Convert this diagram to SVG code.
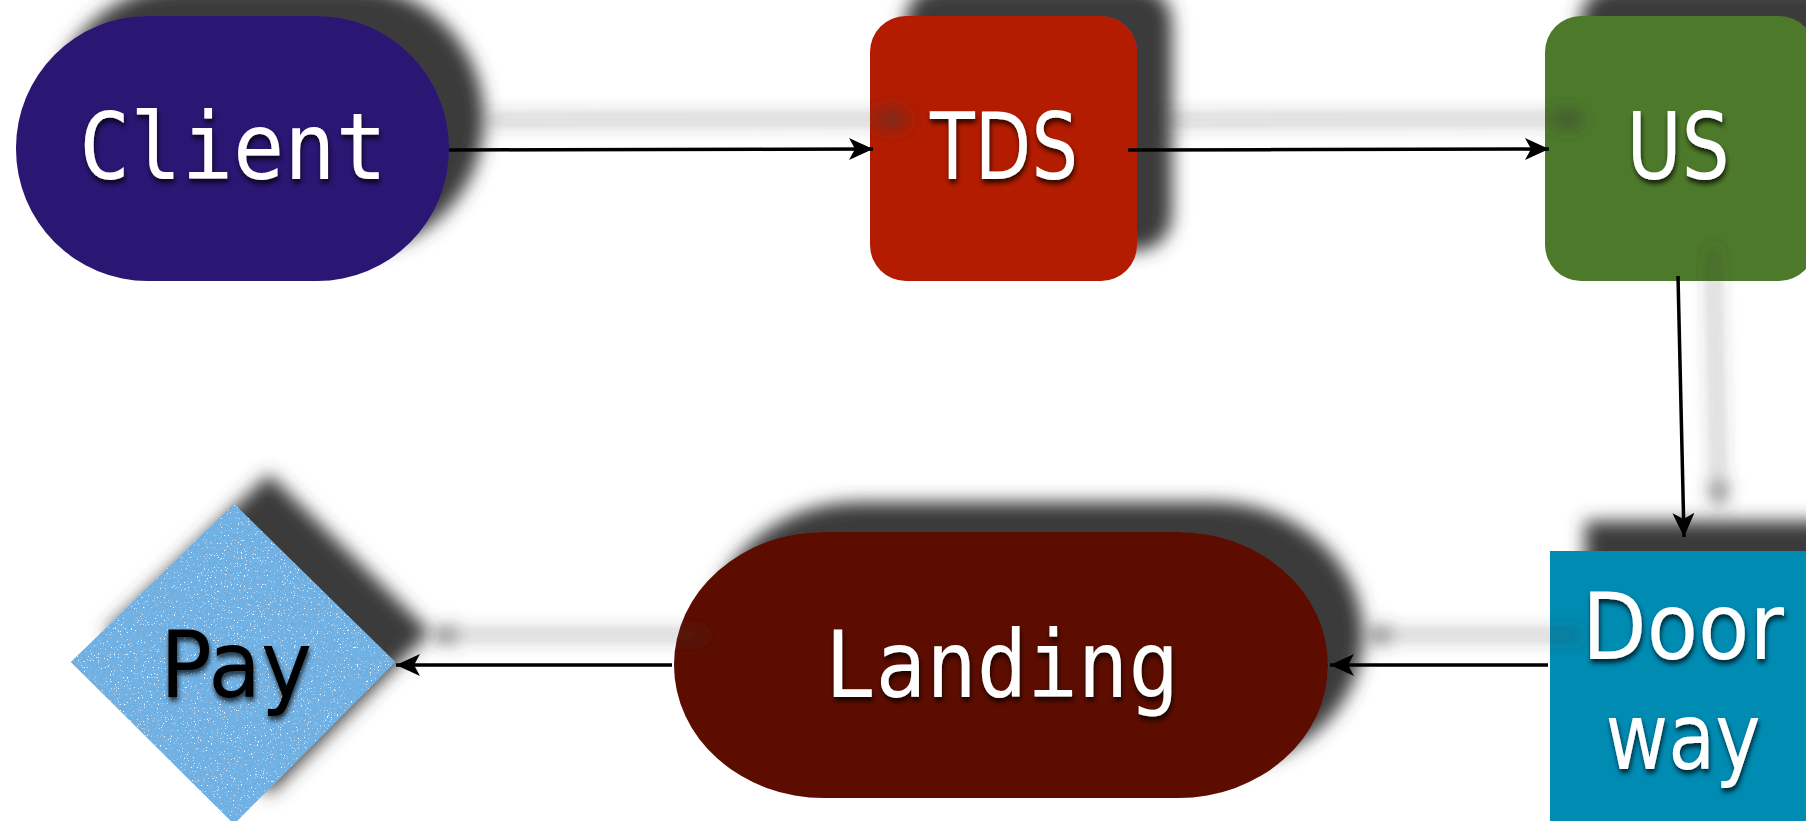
<svg xmlns="http://www.w3.org/2000/svg" width="1806" height="821" viewBox="0 0 1806 821">
  <style>
    .mono { font-family: "DejaVu Sans Mono", "Liberation Mono", monospace; font-size: 92px; fill: #ffffff; text-anchor: middle; }
    .sans { font-family: "DejaVu Sans", "Liberation Sans", sans-serif; font-size: 92px; fill: #ffffff; text-anchor: middle; }
    .dark { fill: #000000; }
    .edge { fill: none; stroke: #000000; stroke-width: 3.5; marker-end: url(#arrow); }
  </style>
  <defs>
    <!-- cast shadow thrown up and to the right -->
    <filter id="drop" filterUnits="userSpaceOnUse" x="-100" y="-100" width="2000" height="1050">
      <feGaussianBlur in="SourceAlpha" stdDeviation="9"/>
      <feOffset dx="35" dy="-30" result="blur"/>
      <feFlood flood-color="#3a3a3a"/>
      <feComposite in2="blur" operator="in"/>
      <feMerge>
        <feMergeNode/>
        <feMergeNode in="SourceGraphic"/>
      </feMerge>
    </filter>
    <!-- soft shadow under labels -->
    <filter id="tshadow" filterUnits="userSpaceOnUse" x="0" y="0" width="1806" height="821">
      <feGaussianBlur in="SourceAlpha" stdDeviation="2.4"/>
      <feOffset dx="1" dy="4" result="b"/>
      <feFlood flood-color="#000000" flood-opacity="0.75"/>
      <feComposite in2="b" operator="in"/>
      <feMerge>
        <feMergeNode/>
        <feMergeNode in="SourceGraphic"/>
      </feMerge>
    </filter>
    <!-- speckled paper texture for the diamond -->
    <filter id="grain" filterUnits="userSpaceOnUse" x="60" y="495" width="345" height="340">
      <feTurbulence type="fractalNoise" baseFrequency="0.7" numOctaves="2" seed="7" result="noise"/>
      <feColorMatrix in="noise" type="matrix" values="0 0 0 0 1  0 0 0 0 1  0 0 0 0 1  9 0 0 0 -6.0" result="specks"/>
      <feTurbulence type="fractalNoise" baseFrequency="0.35" numOctaves="3" seed="2" result="mottle"/>
      <feColorMatrix in="mottle" type="matrix" values="0 0 0 0 0.35  0 0 0 0 0.55  0 0 0 0 0.8  0.6 0 0 0 -0.22" result="m"/>
      <feFlood flood-color="#6cafe2" result="base"/>
      <feMerge>
        <feMergeNode in="base"/>
        <feMergeNode in="m"/>
        <feMergeNode in="specks"/>
      </feMerge>
    </filter>
    <clipPath id="diamondClip">
      <polygon points="234,504 395,662 234,824 71,662"/>
    </clipPath>
    <marker id="arrow" markerUnits="userSpaceOnUse" markerWidth="26" markerHeight="24" refX="24" refY="11" orient="auto">
      <path d="M0,0 L24,11 L0,22 L6,11 Z" fill="#000000"/>
    </marker>
  </defs>

  <rect width="1806" height="821" fill="#ffffff"/>

  <g id="node-client" filter="url(#drop)">
    <rect x="16" y="16" width="433" height="265" rx="132" ry="132" fill="#2c1373"/>
  </g>
  <g id="node-tds" filter="url(#drop)">
    <rect x="870" y="16" width="267" height="265" rx="36" ry="36" fill="#b31a00"/>
  </g>
  <g id="node-us" filter="url(#drop)">
    <rect x="1545" y="16" width="270" height="265" rx="36" ry="36" fill="#4d7a2a"/>
  </g>
  <g id="node-doorway" filter="url(#drop)">
    <rect x="1550" y="551" width="270" height="290" fill="#008bb3"/>
  </g>
  <g id="node-landing" filter="url(#drop)">
    <rect x="674" y="532" width="654" height="266" rx="150" ry="133" fill="#5c0800"/>
  </g>
  <g id="node-pay" filter="url(#drop)">
    <polygon points="234,504 395,662 234,824 71,662" fill="#6cafe2"/>
    <g clip-path="url(#diamondClip)">
      <rect x="60" y="495" width="345" height="340" filter="url(#grain)"/>
    </g>
  </g>

  <g id="connectors" filter="url(#drop)">
    <line class="edge" x1="449" y1="150" x2="873" y2="149"/>
    <line class="edge" x1="1128" y1="150" x2="1549" y2="149"/>
    <line class="edge" x1="1678" y1="276" x2="1684" y2="537"/>
    <line class="edge" x1="1548" y1="665" x2="1330" y2="665"/>
    <line class="edge" x1="672" y1="665" x2="396" y2="665"/>
  </g>

  <g id="labels" filter="url(#tshadow)">
    <text class="mono" x="233" y="179" textLength="308" lengthAdjust="spacingAndGlyphs">Client</text>
    <text class="sans" x="1004" y="179" textLength="148" lengthAdjust="spacingAndGlyphs">TDS</text>
    <text class="sans" x="1678" y="179" textLength="103" lengthAdjust="spacingAndGlyphs">US</text>
    <text class="sans" x="1683" y="659" font-size="90" textLength="202" lengthAdjust="spacingAndGlyphs">Door</text>
    <text class="sans" x="1683" y="769" font-size="90" textLength="155" lengthAdjust="spacingAndGlyphs">way</text>
    <text class="mono" x="1002" y="697" textLength="354" lengthAdjust="spacingAndGlyphs">Landing</text>
    <text class="sans dark" x="236" y="697" textLength="152" lengthAdjust="spacingAndGlyphs">Pay</text>
  </g>
</svg>
